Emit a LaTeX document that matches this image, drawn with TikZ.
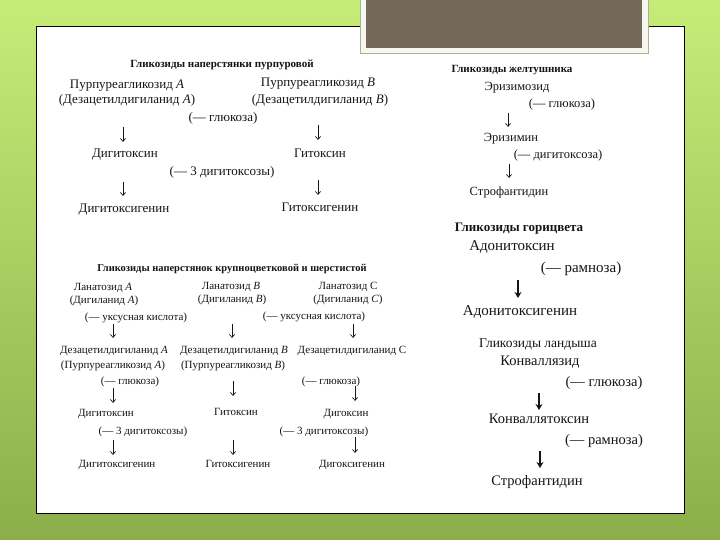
\documentclass[tikz,border=0pt]{standalone}
\usepackage{fontspec}
\setmainfont{Liberation Serif}
\usetikzlibrary{arrows.meta}
\definecolor{bgtop}{HTML}{C6EC78}
\definecolor{bgbot}{HTML}{8CAE4A}
\definecolor{boxgrey}{HTML}{716857}
\definecolor{boxrim}{HTML}{F6F6EE}
\definecolor{rimline}{HTML}{A9B48E}
\definecolor{ink}{HTML}{151515}
\begin{document}
\begin{tikzpicture}[x=1pt,y=-1pt,
  t/.style={anchor=mid,inner sep=0pt,text=ink},
  fa/.style={t,font=\fontsize{13}{14}\selectfont},
  ha/.style={t,font=\fontsize{11}{12}\selectfont\bfseries},
  fb/.style={t,font=\fontsize{12.5}{13}\selectfont},
  hb/.style={t,font=\fontsize{11}{12}\selectfont\bfseries},
  fc/.style={t,font=\fontsize{15}{16}\selectfont},
  hc/.style={t,font=\fontsize{13}{14}\selectfont\bfseries},
  fd/.style={t,font=\fontsize{14.5}{15}\selectfont},
  hd/.style={t,font=\fontsize{13.5}{14}\selectfont},
  fe/.style={t,font=\fontsize{11}{12}\selectfont},
  he/.style={t,font=\fontsize{10.5}{11}\selectfont\bfseries},
  arr/.style={draw=ink,line width=0.7pt,-{Straight Barb[length=3pt,width=5pt]}},
  barr/.style={draw=ink,line width=1.3pt,-{Stealth[length=6pt,width=7pt]}}]
\useasboundingbox (0,0) rectangle (720,540);
% background
\shade[top color=bgtop,bottom color=bgbot] (0,0) rectangle (720,540);
\draw[black,line width=0.9pt,fill=white] (36.5,26.5) rectangle (684,513);
\draw[rimline,line width=0.6pt,fill=boxrim] (360,-2) rectangle (648,53);
\fill[boxgrey] (366,-2) rectangle (642,48);

% ---- section 1
\node[ha] (s1t) at (222,65) {Гликозиды наперстянки пурпуровой};
\node[fa] (pa) at (127,86) {Пурпуреагликозид \textit{А}};
\node[fa] (da) at (127,101) {(Дезацетилдигиланид \textit{А})};
\node[fa] (pb) at (318,84) {Пурпуреагликозид \textit{В}};
\node[fa] (db) at (320,101) {(Дезацетилдигиланид \textit{В})};
\node[fa] (gl1) at (223,119) {(— глюкоза)};
\node[fa] (dgt1) at (125,155) {Дигитоксин};
\node[fa] (gtx1) at (320,155) {Гитоксин};
\node[fa] (tri1) at (222,173) {(— 3 дигитоксозы)};
\node[fa] (dgg1) at (124,210) {Дигитоксигенин};
\node[fa] (gtg1) at (320,209) {Гитоксигенин};
\coordinate (a1s) at (123,127); \coordinate (a1e) at (123,142);
\coordinate (a2s) at (318,125); \coordinate (a2e) at (318,140);
\coordinate (a3s) at (123,182); \coordinate (a3e) at (123,196);
\coordinate (a4s) at (318,180); \coordinate (a4e) at (318,195);
\draw[arr] (a1s) -- (a1e);
\draw[arr] (a2s) -- (a2e);
\draw[arr] (a3s) -- (a3e);
\draw[arr] (a4s) -- (a4e);

% ---- section 2
\node[hb] (s2t) at (512,70) {Гликозиды желтушника};
\node[fb] (erz) at (517,88) {Эризимозид};
\node[fb] (gl2) at (562,105) {(— глюкоза)};
\node[fb] (erm) at (511,139) {Эризимин};
\node[fb] (dgx2) at (558,156) {(— дигитоксоза)};
\node[fb] (str2) at (509,193) {Строфантидин};
\coordinate (b1s) at (508,113); \coordinate (b1e) at (508,127);
\coordinate (b2s) at (509,164); \coordinate (b2e) at (509,178);
\draw[arr] (b1s) -- (b1e);
\draw[arr] (b2s) -- (b2e);

% ---- section 3
\node[hc] (s3t) at (519,229) {Гликозиды горицвета};
\node[fc] (adt) at (512,248) {Адонитоксин};
\node[fc] (ram3) at (581,270) {(— рамноза)};
\node[fc] (adg) at (520,313) {Адонитоксигенин};
\coordinate (c1s) at (518,280); \coordinate (c1e) at (518,298);
\draw[barr] (c1s) -- (c1e);

% ---- section 4
\node[hd] (s4t) at (538,345) {Гликозиды ландыша};
\node[fd] (kvz) at (540,363) {Конваллязид};
\node[fd] (gl4) at (604,384) {(— глюкоза)};
\node[fd] (kvt) at (539,421) {Конваллятоксин};
\node[fd] (ram4) at (604,442) {(— рамноза)};
\node[fd] (str4) at (537,483) {Строфантидин};
\coordinate (d1s) at (539,393); \coordinate (d1e) at (539,410);
\coordinate (d2s) at (540,451); \coordinate (d2e) at (540,468);
\draw[barr] (d1s) -- (d1e);
\draw[barr] (d2s) -- (d2e);

% ---- section 5
\node[he] (s5t) at (232,269) {Гликозиды наперстянок крупноцветковой и шерстистой};
\node[fe] (la) at (103,288) {Ланатозид \textit{А}};
\node[fe] (dla) at (104,301) {(Дигиланид \textit{А})};
\node[fe] (lb) at (231,287) {Ланатозид \textit{В}};
\node[fe] (dlb) at (232,300) {(Дигиланид \textit{В})};
\node[fe] (lc) at (348,287) {Ланатозид С};
\node[fe] (dlc) at (348,300) {(Дигиланид \textit{С})};
\node[fe] (uk1) at (136,318) {(— уксусная кислота)};
\node[fe] (uk2) at (314,317) {(— уксусная кислота)};
\node[fe] (dza) at (114,351) {Дезацетилдигиланид \textit{А}};
\node[fe] (ppa) at (113,366) {(Пурпуреагликозид \textit{А})};
\node[fe] (dzb) at (234,351) {Дезацетилдигиланид \textit{В}};
\node[fe] (ppb) at (233,366) {(Пурпуреагликозид \textit{В})};
\node[fe] (dzc) at (352,351) {Дезацетилдигиланид С};
\node[fe] (gl5a) at (130,382) {(— глюкоза)};
\node[fe] (gl5c) at (331,382) {(— глюкоза)};
\node[fe] (dgt5) at (106,414) {Дигитоксин};
\node[fe] (gtx5) at (236,413) {Гитоксин};
\node[fe] (dgx5) at (346,414) {Дигоксин};
\node[fe] (tri5a) at (143,432) {(— 3 дигитоксозы)};
\node[fe] (tri5c) at (324,432) {(— 3 дигитоксозы)};
\node[fe] (dgg5) at (117,465) {Дигитоксигенин};
\node[fe] (gtg5) at (238,465) {Гитоксигенин};
\node[fe] (dxg5) at (352,465) {Дигоксигенин};
\coordinate (e1s) at (113,324); \coordinate (e1e) at (113,338);
\coordinate (e2s) at (232,324); \coordinate (e2e) at (232,338);
\coordinate (e3s) at (353,324); \coordinate (e3e) at (353,338);
\coordinate (e4s) at (113,388); \coordinate (e4e) at (113,403);
\coordinate (e5s) at (233,381); \coordinate (e5e) at (233,396);
\coordinate (e6s) at (355,386); \coordinate (e6e) at (355,401);
\coordinate (e7s) at (113,440); \coordinate (e7e) at (113,455);
\coordinate (e8s) at (233,440); \coordinate (e8e) at (233,455);
\coordinate (e9s) at (355,437); \coordinate (e9e) at (355,453);
\foreach \i in {1,...,9} {\draw[arr] (e\i s) -- (e\i e);}
\end{tikzpicture}
\end{document}
